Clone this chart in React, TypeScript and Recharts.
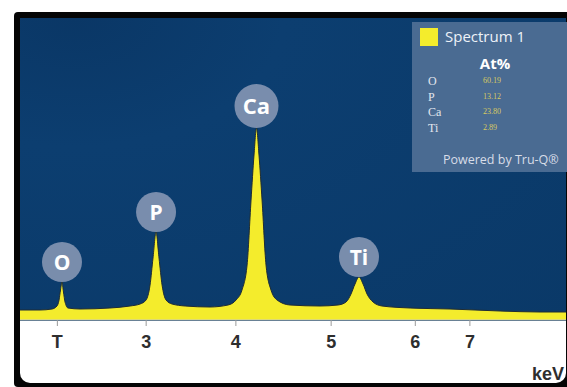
import { Area, AreaChart, ReferenceDot, XAxis, YAxis } from "recharts";

// spectrum trace (energy in keV, counts in arbitrary units)
const spectrumKeV = [
  1.646, 1.863, 1.992, 2.046, 2.068, 2.084, 2.1, 2.116, 2.133, 2.165, 2.295,
  2.619, 2.836, 2.944, 3.009, 3.052, 3.084, 3.117, 3.149, 3.182, 3.225, 3.29,
  3.431, 3.701, 3.895, 3.982, 4.046, 4.101, 4.144, 4.176, 4.203, 4.23, 4.263,
  4.306, 4.36, 4.425, 4.565, 4.89, 5.084, 5.171, 5.225, 5.268, 5.311, 5.355,
  5.398, 5.463, 5.56, 5.863, 6.295, 6.836, 7.268, 7.56,
];
const spectrumCounts = [
  100, 100, 110, 140, 200, 300, 380, 280, 180, 120, 110,
  120, 140, 160, 200, 350, 620, 880, 620, 350, 200, 160,
  140, 130, 150, 200, 300, 550, 1200, 1650, 1920, 1650, 1200,
  550, 300, 200, 150, 140, 150, 180, 260, 360, 430, 360,
  260, 180, 140, 120, 110, 90, 80, 80,
];

const tickValues = [2.05, 3.01, 3.98, 5.01, 5.92, 6.51];
const tickLabels = ["T", "3", "4", "5", "6", "7"];

const peakElements = ["O", "P", "Ca", "Ti"];
const peakKeV = [2.1, 3.117, 4.203, 5.311];
const peakCounts = [380, 880, 1920, 430];

const atElements = ["O", "P", "Ca", "Ti"];
const atPercent = ["60.19", "13.12", "23.80", "2.89"];

const data = spectrumKeV.map((kev, i) => ({ kev, counts: spectrumCounts[i] }));

const YELLOW = "#f4ec2c";

function PeakBadge(props: any) {
  const { cx, cy, symbol, r } = props;
  if (cx == null || cy == null) return null;
  const y = cy - r;
  return (
    <g>
      <circle cx={cx} cy={y} r={r} fill="#8091b0" fillOpacity={0.95} />
      <text
        x={cx}
        y={y}
        dy="0.36em"
        textAnchor="middle"
        fill="#ffffff"
        fontSize={r >= 22 ? 22 : 21}
        fontWeight={700}
        fontFamily="'Open Sans', Arial, sans-serif"
      >
        {symbol}
      </text>
    </g>
  );
}

function SpectrumLegend() {
  return (
    <div
      style={{
        position: "absolute",
        left: 412,
        top: 22,
        width: 160,
        height: 150,
        background: "#4a6b92",
        fontFamily: "'Open Sans', Arial, sans-serif",
      }}
    >
      <div style={{ position: "absolute", left: 8, top: 6, width: 18, height: 18, background: YELLOW }} />
      <div style={{ position: "absolute", left: 33, top: 5, fontSize: 15, lineHeight: "18px", color: "#eef2f8" }}>
        Spectrum 1
      </div>
      <div
        style={{
          position: "absolute",
          left: 58,
          top: 32,
          width: 50,
          textAlign: "center",
          fontSize: 15,
          fontWeight: 700,
          lineHeight: "18px",
          color: "#ffffff",
        }}
      >
        At%
      </div>
      {atElements.map((el, i) => (
        <div key={el} style={{ position: "absolute", left: 0, top: 52 + i * 15.7, width: 160, height: 14 }}>
          <span
            style={{
              position: "absolute",
              left: 16,
              fontFamily: "'Liberation Serif', serif",
              fontSize: 12,
              lineHeight: "14px",
              color: "#e2e6ee",
            }}
          >
            {el}
          </span>
          <span
            style={{
              position: "absolute",
              left: 71,
              fontFamily: "'Liberation Serif', serif",
              fontSize: 8,
              lineHeight: "14px",
              color: "#d9ca62",
            }}
          >
            {atPercent[i]}
          </span>
        </div>
      ))}
      <div style={{ position: "absolute", left: 31, top: 129, fontSize: 12.5, lineHeight: "18px", color: "#d8dde8" }}>
        Powered by Tru-Q®
      </div>
    </div>
  );
}

export default function App() {
  return (
    <div
      style={{
        position: "absolute",
        left: 0,
        top: 0,
        width: 567,
        height: 387,
        background: "#ffffff",
        overflow: "hidden",
      }}
    >
      <div
        style={{ position: "absolute", left: 14, top: 12, width: 570, height: 375, background: "#050505", borderRadius: 4 }}
      />
      <div
        style={{
          position: "absolute",
          left: 20,
          top: 18,
          width: 546,
          height: 365,
          background: "#ffffff",
          borderRadius: "0 0 10px 10px",
          overflow: "hidden",
        }}
      >
        <div
          style={{
            position: "absolute",
            left: 0,
            top: 0,
            width: 547,
            height: 303,
            background: "radial-gradient(ellipse at 10% 0%, #0a3766 0%, #0c3e70 30%, #0a3968 100%)",
          }}
        />
        <AreaChart width={547} height={365} data={data} margin={{ top: 0, right: 0, bottom: 0, left: 0 }}>
          <XAxis
            dataKey="kev"
            type="number"
            domain={[1.646, 7.56]}
            allowDataOverflow
            ticks={tickValues}
            interval={0}
            tickFormatter={(_v: number, i: number) => tickLabels[i]}
            height={63}
            tickSize={6}
            tickMargin={9}
            axisLine={{ stroke: "#c8c8c0" }}
            tickLine={{ stroke: "#9a9a9a" }}
            tick={{ fill: "#2e2e2e", fontSize: 18, fontWeight: 700, fontFamily: "'Liberation Sans', Arial, sans-serif" }}
            label={{
              value: "keV",
              position: "insideBottomRight",
              offset: 3,
              fill: "#2e2e2e",
              fontSize: 18,
              fontWeight: 700,
              fontFamily: "'Liberation Sans', Arial, sans-serif",
            }}
          />
          <YAxis hide domain={[0, 3020]} allowDataOverflow />
          <Area
            type="monotone"
            dataKey="counts"
            stroke="#1f2c35"
            strokeWidth={1}
            fill={YELLOW}
            fillOpacity={1}
            isAnimationActive={false}
          />
          {peakElements.map((el, i) => (
            <ReferenceDot
              key={el}
              x={peakKeV[i]}
              y={peakCounts[i]}
              r={el === "Ca" ? 22 : 20}
              ifOverflow="visible"
              shape={(p: any) => <PeakBadge {...p} symbol={el} r={el === "Ca" ? 22 : 20} />}
            />
          ))}
        </AreaChart>
      </div>
      <SpectrumLegend />
    </div>
  );
}
